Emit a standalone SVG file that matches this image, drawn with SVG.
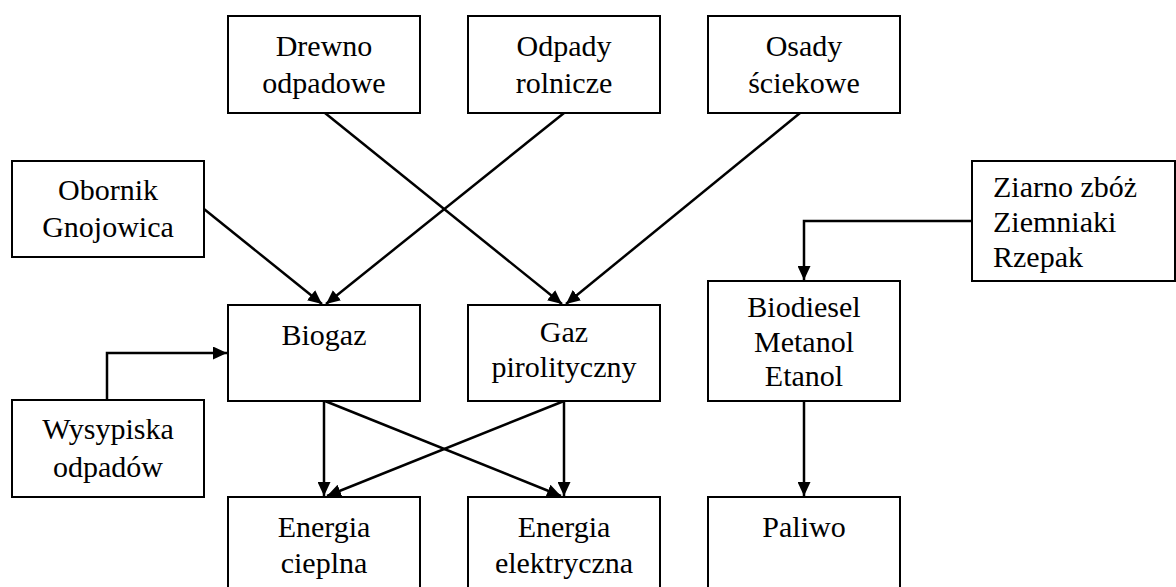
<svg xmlns="http://www.w3.org/2000/svg" width="1176" height="587" viewBox="0 0 1176 587">
<style>
.box{fill:#fff;stroke:#000;stroke-width:2}
.t{text-anchor:middle}
.c{fill:none;stroke:#000;stroke-width:2.5;marker-end:url(#ah)}
</style>
<defs>
<marker id="ah" markerUnits="userSpaceOnUse" markerWidth="14" markerHeight="13" refX="14" refY="6.5" orient="auto">
<path d="M0,0 L14,6.5 L0,13 z" fill="#000"/>
</marker>
</defs>
<g id="connectors">
<path class="c" d="M325,113 L562,304"/>
<path class="c" d="M564,113 L326,304"/>
<path class="c" d="M800,113 L566,304"/>
<path class="c" d="M204,209 L322,304"/>
<path class="c" d="M107,400 L107,353 L227,353"/>
<path class="c" d="M972,221 L804,221 L804,280"/>
<path class="c" d="M324,401 L324,496"/>
<path class="c" d="M325,401 L561,496"/>
<path class="c" d="M564,401 L327,496"/>
<path class="c" d="M564,401 L564,496"/>
<path class="c" d="M804,401 L804,496"/>
</g>
<g font-family="Liberation Serif, Times New Roman, DejaVu Serif, serif" font-size="30" fill="#000">
<g id="drewno"><rect class="box" x="228" y="16" width="192" height="97"/><text class="t" x="324" y="56">Drewno</text><text class="t" x="324" y="93">odpadowe</text></g>
<g id="odpady"><rect class="box" x="468" y="16" width="192" height="97"/><text class="t" x="564" y="56">Odpady</text><text class="t" x="564" y="93">rolnicze</text></g>
<g id="osady"><rect class="box" x="708" y="16" width="192" height="97"/><text class="t" x="804" y="56">Osady</text><text class="t" x="804" y="93">ściekowe</text></g>
<g id="obornik"><rect class="box" x="12" y="161" width="192" height="96"/><text class="t" x="108" y="200">Obornik</text><text class="t" x="108" y="237">Gnojowica</text></g>
<g id="ziarno"><rect class="box" x="972" y="161" width="203" height="120"/><text x="993" y="197">Ziarno zbóż</text><text x="993" y="232">Ziemniaki</text><text x="993" y="267">Rzepak</text></g>
<g id="biogaz"><rect class="box" x="228" y="305" width="192" height="96"/><text class="t" x="324" y="345">Biogaz</text></g>
<g id="gaz"><rect class="box" x="468" y="305" width="192" height="96"/><text class="t" x="564" y="342">Gaz</text><text class="t" x="564" y="377">pirolityczny</text></g>
<g id="biodiesel"><rect class="box" x="708" y="281" width="192" height="120"/><text class="t" x="804" y="317">Biodiesel</text><text class="t" x="804" y="352">Metanol</text><text class="t" x="804" y="386">Etanol</text></g>
<g id="wysypiska"><rect class="box" x="12" y="400" width="192" height="97"/><text class="t" x="108" y="439">Wysypiska</text><text class="t" x="108" y="477">odpadów</text></g>
<g id="cieplna"><rect class="box" x="228" y="497" width="192" height="110"/><text class="t" x="324" y="537">Energia</text><text class="t" x="324" y="573">cieplna</text></g>
<g id="elektryczna"><rect class="box" x="468" y="497" width="192" height="110"/><text class="t" x="564" y="537">Energia</text><text class="t" x="564" y="573">elektryczna</text></g>
<g id="paliwo"><rect class="box" x="708" y="497" width="192" height="110"/><text class="t" x="804" y="537">Paliwo</text></g>
</g>
</svg>
